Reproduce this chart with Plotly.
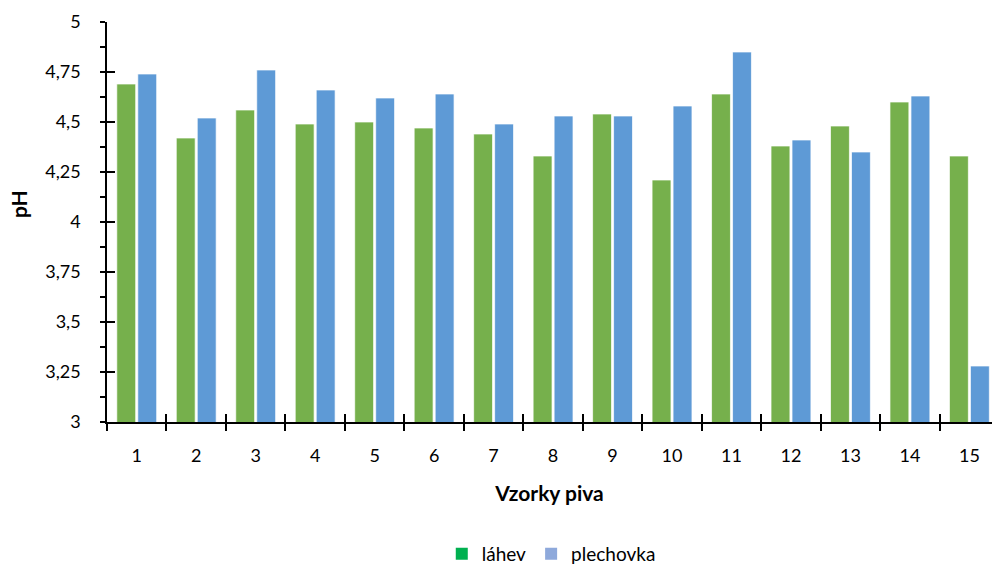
import plotly.graph_objects as go

# Samples of beer, pH measured from bottle (láhev) and can (plechovka)
samples = [str(i) for i in range(1, 16)]
lahev = [4.69, 4.42, 4.56, 4.49, 4.50, 4.47, 4.44, 4.33, 4.54, 4.21, 4.64, 4.38, 4.48, 4.60, 4.33]
plechovka = [4.74, 4.52, 4.76, 4.66, 4.62, 4.64, 4.49, 4.53, 4.53, 4.58, 4.85, 4.41, 4.35, 4.63, 3.28]

y_tick_vals = [3, 3.25, 3.5, 3.75, 4, 4.25, 4.5, 4.75, 5]
y_tick_text = ["3", "3,25", "3,5", "3,75", "4", "4,25", "4,5", "4,75", "5"]
y_minor_vals = [3.125, 3.375, 3.625, 3.875, 4.125, 4.375, 4.625, 4.875]

FONT = "Lato"
BAR_GREEN = "#76B04C"
BAR_BLUE = "#5E9AD6"
LEG_GREEN = "#00B050"
LEG_BLUE = "#8EA9DB"

fig = go.Figure()

fig.add_trace(go.Bar(
    x=samples, y=lahev, name="láhev", showlegend=False,
    marker=dict(color=BAR_GREEN, line=dict(color="rgba(255,255,255,0.7)", width=1)),
))
fig.add_trace(go.Bar(
    x=samples, y=plechovka, name="plechovka", showlegend=False,
    marker=dict(color=BAR_BLUE, line=dict(color="rgba(255,255,255,0.7)", width=1)),
))

# legend swatches on the overlay axes (also keeps those axes drawn)
fig.add_trace(go.Scatter(
    x=[None], y=[None], name="láhev", mode="markers", xaxis="x2", yaxis="y2",
    marker=dict(symbol="square", size=11, color=LEG_GREEN),
))
fig.add_trace(go.Scatter(
    x=[None], y=[None], name="plechovka", mode="markers", xaxis="x2", yaxis="y2",
    marker=dict(symbol="square", size=11, color=LEG_BLUE),
))

x_range = [-0.5, 14.38]
y_range = [3, 5]

fig.update_layout(
    width=992, height=569,
    margin=dict(l=107, r=0, t=22, b=147, autoexpand=False),
    paper_bgcolor="white", plot_bgcolor="white",
    font=dict(family=FONT, size=18, color="#000000"),
    barmode="group", bargap=0.294, bargroupgap=0.1,
    showlegend=True,
    legend=dict(
        orientation="h", x=0.502, xanchor="center", y=-0.33, yanchor="middle",
        font=dict(family=FONT, size=19, color="#000000"),
        itemsizing="constant", traceorder="normal", itemwidth=30,
    ),
    xaxis=dict(
        type="category", categoryorder="array", categoryarray=samples,
        range=x_range, tickson="boundaries",
        showline=True, linecolor="#000000", linewidth=1.5,
        ticks="outside", ticklen=7, tickwidth=1.5, tickcolor="#000000",
        showgrid=False, zeroline=False, ticklabelstandoff=17,
        tickfont=dict(family=FONT, size=18),
        title=dict(text="<b>Vzorky piva</b>", font=dict(family=FONT, size=21), standoff=21),
    ),
    yaxis=dict(
        range=y_range, tickmode="array", tickvals=y_tick_vals, ticktext=y_tick_text,
        showline=True, linecolor="#000000", linewidth=1.5,
        ticks="outside", ticklen=5, tickwidth=1.5, tickcolor="#000000",
        minor=dict(tickmode="array", tickvals=y_minor_vals, ticks="outside",
                   ticklen=5, tickwidth=1.5, tickcolor="#000000", showgrid=False),
        showgrid=False, zeroline=False, ticklabelstandoff=16,
        tickfont=dict(family=FONT, size=18),
    ),
    # overlay axes draw the inner half of the crossing tick marks
    xaxis2=dict(
        type="category", categoryorder="array", categoryarray=samples,
        range=x_range, tickson="boundaries", overlaying="x", anchor="y2", side="bottom",
        showline=False, ticks="inside", ticklen=8, tickwidth=1.5, tickcolor="#000000",
        showticklabels=False, showgrid=False, zeroline=False,
    ),
    yaxis2=dict(
        range=y_range, tickmode="array", tickvals=y_tick_vals, overlaying="y",
        anchor="x2", side="left",
        showline=False, ticks="inside", ticklen=8, tickwidth=1.5, tickcolor="#000000",
        showticklabels=False, showgrid=False, zeroline=False,
    ),
    annotations=[dict(
        text="<b>pH</b>", xref="paper", yref="paper", x=-0.0994, y=0.545,
        xanchor="center", yanchor="middle", textangle=-90, showarrow=False,
        font=dict(family=FONT, size=21, color="#000000"),
    )],
)

fig.write_html("out.html")
